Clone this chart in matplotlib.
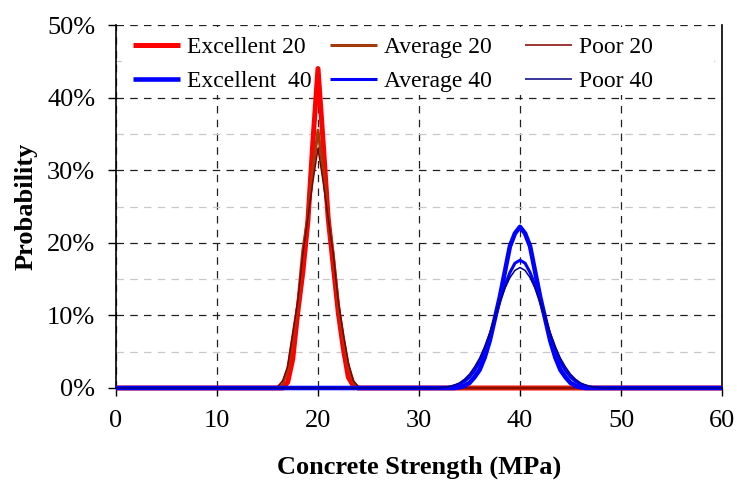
import matplotlib
matplotlib.use('Agg')
import matplotlib.pyplot as plt
from matplotlib.ticker import MultipleLocator, PercentFormatter
from matplotlib.patches import Rectangle
from matplotlib.legend import Legend

plt.rcParams['font.family'] = ['Liberation Serif', 'DejaVu Serif']

# ---- data (probability in %) ----
x20 = [0, 15.5, 16, 16.5, 17, 17.5, 18, 18.5, 19, 19.5, 20, 20.5, 21, 21.5, 22,
       22.5, 23, 23.5, 24, 24.5, 60]
excellent20 = [0, 0, 0, 0, 0.8, 4, 10.5, 16, 23, 34, 44, 34, 23.5, 17, 10.5,
               5.5, 1.5, 0.3, 0, 0, 0]
average20 = [0, 0, 0, 0.5, 2.5, 7, 11.5, 19, 23.5, 30, 35.5, 30, 23.5, 18.5, 11.5,
             7, 3, 0.8, 0, 0, 0]
poor20 = [0, 0, 0.2, 1, 3, 7.5, 12, 18.5, 23.5, 28.5, 33, 28.5, 23.5, 18.5, 12,
          7.5, 3.5, 1, 0.2, 0, 0]

x40 = [0, 32, 32.5, 33, 33.5, 34, 34.5, 35, 35.5, 36, 36.5, 37, 37.5, 38, 38.5,
       39, 39.5, 40, 40.5, 41, 41.5, 42, 42.5, 43, 43.5, 44, 44.5, 45, 45.5, 46,
       46.5, 47, 47.5, 48, 60]
excellent40 = [0, 0, 0, 0, 0, 0.1, 0.3, 0.7, 1.5, 2.5, 4.2, 6.5, 9.5, 12.5, 16,
               19.5, 21.3, 22.2, 21.3, 19.5, 16, 12.5, 9.5, 6.5, 4.2, 2.5, 1.5,
               0.7, 0.3, 0.1, 0, 0, 0, 0, 0]
average40 = [0, 0, 0, 0.1, 0.3, 0.5, 0.9, 1.5, 2.4, 3.6, 5.2, 7.2, 9.5, 11.9, 14.1,
             15.9, 17.2, 17.6, 17.2, 15.9, 14.1, 11.9, 9.5, 7.2, 5.2, 3.6, 2.4,
             1.5, 0.9, 0.5, 0.3, 0.1, 0, 0, 0]
poor40 = [0, 0, 0.1, 0.2, 0.4, 0.7, 1.2, 1.9, 2.9, 4.1, 5.7, 7.6, 9.7, 11.8, 13.7,
          15.2, 16.2, 16.6, 16.2, 15.2, 13.7, 11.8, 9.7, 7.6, 5.7, 4.1, 2.9,
          1.9, 1.2, 0.7, 0.4, 0.2, 0.1, 0, 0]

labels = ["Excellent 20", "Average 20", "Poor 20",
          "Excellent  40", "Average 40", "Poor 40"]
xticks = [0, 10, 20, 30, 40, 50, 60]

fig = plt.figure(figsize=(7.37, 4.8), dpi=100)
ax = fig.add_axes([116/737, 92/480, 606/737, 363/480])

styles = [
    (x20, excellent20, '#ff0000', 3.6),
    (x20, average20, '#a33a0a', 2.2),
    (x20, poor20, '#800000', 1.1),
    (x40, excellent40, '#0000ff', 3.3),
    (x40, average40, '#0000ff', 2.2),
    (x40, poor40, '#000080', 1.1),
]
handles = []
for (x, y, c, lw), lab in zip(styles, labels):
    h, = ax.plot(x, y, color=c, lw=lw, label=lab, clip_on=False, zorder=3,
                 solid_joinstyle='round', solid_capstyle='butt')
    handles.append(h)

ax.set_xlim(0, 60)
ax.set_ylim(0, 50)
ax.set_xticks(xticks)
ax.yaxis.set_major_locator(MultipleLocator(10))
ax.yaxis.set_minor_locator(MultipleLocator(5))
ax.yaxis.set_major_formatter(PercentFormatter(decimals=0))

ax.set_axisbelow(True)
ax.grid(True, which='major', axis='both', color='#202020',
        linestyle=(0, (6, 5)), lw=0.9)
ax.grid(True, which='minor', axis='y', color='#c8c8c8',
        linestyle=(0, (6, 5)), lw=0.9)
ax.tick_params(which='minor', length=0)
ax.tick_params(which='major', direction='out', length=6, width=1,
               labelsize=19, color='black')
ax.tick_params(axis='y', pad=9)
ax.tick_params(axis='x', pad=10)
ax.spines['top'].set_visible(False)
for s in ['left', 'bottom', 'right']:
    ax.spines[s].set_color('black')
    ax.spines[s].set_linewidth(1.2)

# white band behind legend (covers grid lines)
ax.add_patch(Rectangle((0.0099, 0.806), 0.977, 0.188, transform=ax.transAxes,
                       facecolor='white', edgecolor='none', zorder=1))

# one legend per column, placed like the reference
col_x_px = [133, 330, 525]
pad_px = 0.3 * 17 * 100 / 72
for k, cx in enumerate(col_x_px):
    leg = Legend(ax, [handles[k], handles[k + 3]], [labels[k], labels[k + 3]],
                 ncol=1, loc='upper left',
                 bbox_to_anchor=((cx - pad_px - 116) / 606, 0.988),
                 bbox_transform=ax.transAxes,
                 frameon=False, fontsize=17, handlelength=2.0,
                 handletextpad=0.3, labelspacing=0.55,
                 borderaxespad=0, borderpad=0.3)
    ax.add_artist(leg)

ax.set_xlabel('Concrete Strength (MPa)', fontsize=19, fontweight='bold',
              labelpad=17)
ax.set_ylabel('Probability', fontsize=19, fontweight='bold', labelpad=7)

fig.savefig('out.png', dpi=100)
